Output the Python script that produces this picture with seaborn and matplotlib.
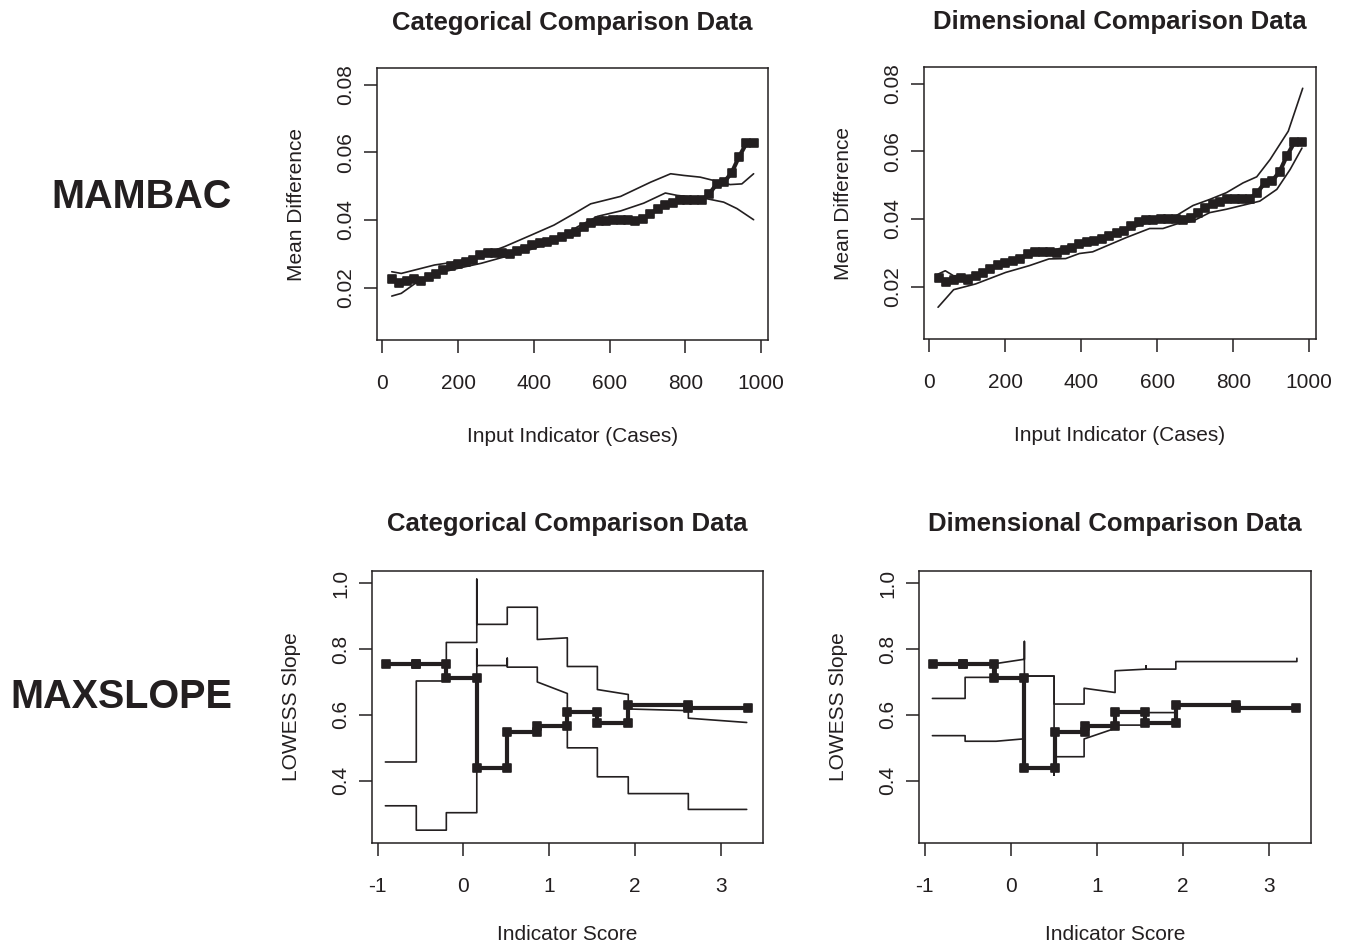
import matplotlib
matplotlib.use("Agg")
import matplotlib.pyplot as plt
from matplotlib.markers import MarkerStyle
import pandas as pd
import seaborn as sns

INK = "#231f20"

# ---------------- MAMBAC (top row) ----------------
mambac_x = [25, 44, 64, 83, 103, 122, 142, 161, 181, 200, 220, 239, 259, 278, 298, 317,
            337, 356, 376, 395, 415, 434, 454, 473, 493, 512, 532, 551, 571, 590, 610, 629,
            649, 668, 688, 707, 727, 746, 766, 785, 805, 824, 844, 863, 883, 902, 922, 941,
            961, 980]
mambac_research = [0.0227, 0.0213, 0.0221, 0.0225, 0.0221, 0.0230, 0.0240, 0.0252, 0.0264,
                   0.0270, 0.0277, 0.0283, 0.0296, 0.0303, 0.0303, 0.0303, 0.0301, 0.0309,
                   0.0313, 0.0326, 0.0331, 0.0336, 0.0342, 0.0350, 0.0358, 0.0365, 0.0378,
                   0.0390, 0.0397, 0.0397, 0.0399, 0.0401, 0.0401, 0.0397, 0.0404, 0.0417,
                   0.0434, 0.0444, 0.0450, 0.0458, 0.0460, 0.0458, 0.0460, 0.0478, 0.0507,
                   0.0512, 0.0540, 0.0586, 0.0627, 0.0627]

# categorical comparison data (two thin curves)
mambac_cat_a_x = [25, 50, 138, 199, 261, 322, 392, 453, 506, 550, 629, 708, 761, 796, 839,
                  875, 918, 949, 980]
mambac_cat_a_y = [0.0247, 0.0242, 0.0267, 0.0277, 0.0296, 0.0321, 0.0355, 0.0385, 0.0419,
                  0.0448, 0.0470, 0.0512, 0.0537, 0.0532, 0.0527, 0.0517, 0.0505, 0.0507,
                  0.0537]
mambac_cat_b_x = [25, 50, 85, 146, 199, 261, 322, 392, 462, 515, 568, 629, 690, 747, 778,
                  857, 901, 936, 980]
mambac_cat_b_y = [0.0175, 0.0183, 0.0211, 0.0242, 0.0257, 0.0272, 0.0291, 0.0313, 0.0340,
                  0.0380, 0.0411, 0.0427, 0.0450, 0.0480, 0.0473, 0.0463, 0.0453, 0.0434,
                  0.0401]

# dimensional comparison data (two thin curves)
mambac_dim_a_x = [23, 42, 64, 122, 201, 263, 315, 386, 450, 518, 562, 615, 650, 694, 738,
                  782, 826, 862, 897, 945, 983]
mambac_dim_a_y = [0.0237, 0.0247, 0.0232, 0.0235, 0.0268, 0.0290, 0.0305, 0.0325, 0.0345,
                  0.0365, 0.0385, 0.0400, 0.0410, 0.0440, 0.0458, 0.0478, 0.0507, 0.0525,
                  0.0576, 0.0660, 0.0787]
mambac_dim_b_x = [23, 64, 122, 201, 263, 315, 359, 395, 430, 518, 580, 615, 650, 694, 738,
                  782, 870, 915, 950, 981]
mambac_dim_b_y = [0.0139, 0.0191, 0.0208, 0.0242, 0.0262, 0.0282, 0.0283, 0.0298, 0.0303,
                  0.0345, 0.0372, 0.0372, 0.0385, 0.0394, 0.0419, 0.0429, 0.0453, 0.0488,
                  0.0547, 0.0610]

# ---------------- MAXSLOPE (bottom row) ----------------
# research data: indicator-score break points and LOWESS slope of each segment
maxslope_breaks = [-0.90, -0.55, -0.20, 0.155, 0.51, 0.86, 1.21, 1.56, 1.92, 2.62, 3.32]
maxslope_slopes = [0.754, 0.754, 0.711, 0.438, 0.549, 0.567, 0.610, 0.576, 0.630, 0.620]

# categorical comparison data (two thin step curves, vertices)
maxslope_cat_a_x = [-0.91, -0.55, -0.55, -0.20, -0.20, 0.155, 0.155, 0.155, 0.51, 0.51,
                    0.86, 0.86, 1.21, 1.21, 1.56, 1.56, 1.92, 1.92, 2.62, 2.62, 3.30]
maxslope_cat_a_y = [0.457, 0.457, 0.703, 0.703, 0.820, 0.820, 1.012, 0.875, 0.875, 0.927,
                    0.927, 0.829, 0.834, 0.747, 0.747, 0.677, 0.662, 0.618, 0.613, 0.590,
                    0.577]
maxslope_cat_b_x = [-0.91, -0.55, -0.55, -0.20, -0.20, 0.155, 0.155, 0.155, 0.51, 0.51,
                    0.51, 0.86, 0.86, 1.21, 1.21, 1.56, 1.56, 1.92, 1.92, 2.62, 2.62, 3.30]
maxslope_cat_b_y = [0.324, 0.324, 0.250, 0.250, 0.303, 0.303, 0.800, 0.750, 0.750, 0.772,
                    0.745, 0.745, 0.700, 0.665, 0.500, 0.500, 0.412, 0.412, 0.361, 0.361,
                    0.313, 0.313]

# dimensional comparison data (two thin step curves, vertices)
maxslope_dim_a_x = [-0.91, -0.53, -0.53, -0.17, -0.17, 0.159, 0.159, 0.159, 0.504, 0.504,
                    0.853, 0.853, 1.213, 1.213, 1.574, 1.574, 1.574, 1.919, 1.919, 3.326,
                    3.326]
maxslope_dim_a_y = [0.650, 0.650, 0.714, 0.714, 0.756, 0.769, 0.823, 0.718, 0.718, 0.633,
                    0.633, 0.681, 0.668, 0.734, 0.739, 0.749, 0.739, 0.739, 0.762, 0.762,
                    0.772]
maxslope_dim_b_x = [-0.91, -0.53, -0.53, -0.17, 0.14, 0.159, 0.159, 0.504, 0.504, 0.504,
                    0.853, 0.853, 1.213, 1.213, 1.574, 1.574, 1.919, 1.919, 2.62, 2.62,
                    3.326]
maxslope_dim_b_y = [0.537, 0.537, 0.520, 0.520, 0.527, 0.527, 0.718, 0.718, 0.417, 0.473,
                    0.473, 0.527, 0.559, 0.569, 0.569, 0.607, 0.607, 0.632, 0.632, 0.620,
                    0.620]

# ---------------- text ----------------
row_labels = ["MAMBAC", "MAXSLOPE"]
col_titles = ["Categorical Comparison Data", "Dimensional Comparison Data"]
mambac_xticks = [0, 200, 400, 600, 800, 1000]
mambac_yticks = [0.02, 0.04, 0.06, 0.08]
mambac_yticklabels = ["0.02", "0.04", "0.06", "0.08"]
maxslope_xticks = [-1, 0, 1, 2, 3]
maxslope_yticks = [0.4, 0.6, 0.8, 1.0]
maxslope_yticklabels = ["0.4", "0.6", "0.8", "1.0"]

sns.set_theme(style="white")
plt.rcParams["font.family"] = ["Liberation Sans", "DejaVu Sans"]

W, H = 1347, 947
fig = plt.figure(figsize=(W / 100, H / 100), dpi=100)


def px_axes(left, top, right, bottom):
    return fig.add_axes([left / W, 1 - bottom / H, (right - left) / W, (bottom - top) / H])


ax_tl = px_axes(377, 68, 768, 340)
ax_tr = px_axes(924, 67, 1316, 339)
ax_bl = px_axes(372, 571, 763, 843)
ax_br = px_axes(919, 571, 1311, 843)

SQUARE = MarkerStyle("s", joinstyle="round")


def thin(ax, x, y):
    sns.lineplot(x=x, y=y, ax=ax, color=INK, linewidth=1.2, sort=False, estimator=None)


def thick(ax, x, y):
    sns.lineplot(x=x, y=y, ax=ax, color=INK, linewidth=3.0, sort=False, estimator=None,
                 marker=SQUARE, markersize=6.0, markeredgewidth=1.2, markeredgecolor=INK)


def step_vertices(breaks, slopes):
    xs, ys = [], []
    for i, s in enumerate(slopes):
        xs += [breaks[i], breaks[i + 1]]
        ys += [s, s]
    return xs, ys


# MAMBAC panels
thin(ax_tl, mambac_cat_a_x, mambac_cat_a_y)
thin(ax_tl, mambac_cat_b_x, mambac_cat_b_y)
thick(ax_tl, mambac_x, mambac_research)
thin(ax_tr, mambac_dim_a_x, mambac_dim_a_y)
thin(ax_tr, mambac_dim_b_x, mambac_dim_b_y)
thick(ax_tr, mambac_x, mambac_research)

# MAXSLOPE panels
sx, sy = step_vertices(maxslope_breaks, maxslope_slopes)
thin(ax_bl, maxslope_cat_a_x, maxslope_cat_a_y)
thin(ax_bl, maxslope_cat_b_x, maxslope_cat_b_y)
thick(ax_bl, sx, sy)
thin(ax_br, maxslope_dim_a_x, maxslope_dim_a_y)
thin(ax_br, maxslope_dim_b_x, maxslope_dim_b_y)
thick(ax_br, sx, sy)

FS = 15
for ax, title in [(ax_tl, col_titles[0]), (ax_tr, col_titles[1])]:
    ax.set_xlim(-14, 1018)
    ax.set_ylim(0.0045, 0.085)
    ax.set_xticks(mambac_xticks)
    ax.set_xticklabels([str(t) for t in mambac_xticks])
    ax.set_yticks(mambac_yticks)
    ax.set_yticklabels(mambac_yticklabels, rotation=90, va="center")
    ax.set_xlabel("Input Indicator (Cases)")
    ax.set_ylabel("Mean Difference")
    ax.set_title(title, fontsize=18.5, fontweight="bold", pad=0, y=1.165, va="center",
                 color=INK)

for ax, title in [(ax_bl, col_titles[0]), (ax_br, col_titles[1])]:
    ax.set_xlim(-1.066, 3.49)
    ax.set_ylim(0.211, 1.037)
    ax.set_xticks(maxslope_xticks)
    ax.set_xticklabels([str(t) for t in maxslope_xticks])
    ax.set_yticks(maxslope_yticks)
    ax.set_yticklabels(maxslope_yticklabels, rotation=90, va="center")
    ax.set_xlabel("Indicator Score")
    ax.set_ylabel("LOWESS Slope")
    ax.set_title(title, fontsize=18.5, fontweight="bold", pad=0, y=1.172, va="center",
                 color=INK)

for ax in [ax_tl, ax_tr, ax_bl, ax_br]:
    for sp in ax.spines.values():
        sp.set_visible(True)
        sp.set_color(INK)
        sp.set_linewidth(1.1)
    ax.tick_params(axis="both", which="both", direction="out", length=9.5, width=1.1,
                   color=INK, labelcolor=INK, labelsize=FS, bottom=True, left=True,
                   top=False, right=False)
    ax.tick_params(axis="x", pad=15)
    ax.tick_params(axis="y", pad=6)
    ax.xaxis.label.set_fontsize(FS)
    ax.yaxis.label.set_fontsize(FS)
    ax.xaxis.label.set_color(INK)
    ax.yaxis.label.set_color(INK)
    ax.xaxis.label.set_va("center")
    ax.yaxis.label.set_va("center")
    ax.grid(False)

ax_tl.xaxis.set_label_coords(0.5, -0.353)
ax_tr.xaxis.set_label_coords(0.5, -0.353)
ax_bl.xaxis.set_label_coords(0.5, -0.338)
ax_br.xaxis.set_label_coords(0.5, -0.338)
for ax in [ax_tl, ax_tr, ax_bl, ax_br]:
    ax.yaxis.set_label_coords(-0.205, 0.5)

fig.text(232 / W, 1 - 197 / H, row_labels[0], ha="right", va="center", fontsize=28.5,
         fontweight="bold", color=INK)
fig.text(232 / W, 1 - 697 / H, row_labels[1], ha="right", va="center", fontsize=28.5,
         fontweight="bold", color=INK)

fig.savefig("out.png", dpi=100, facecolor="white")
